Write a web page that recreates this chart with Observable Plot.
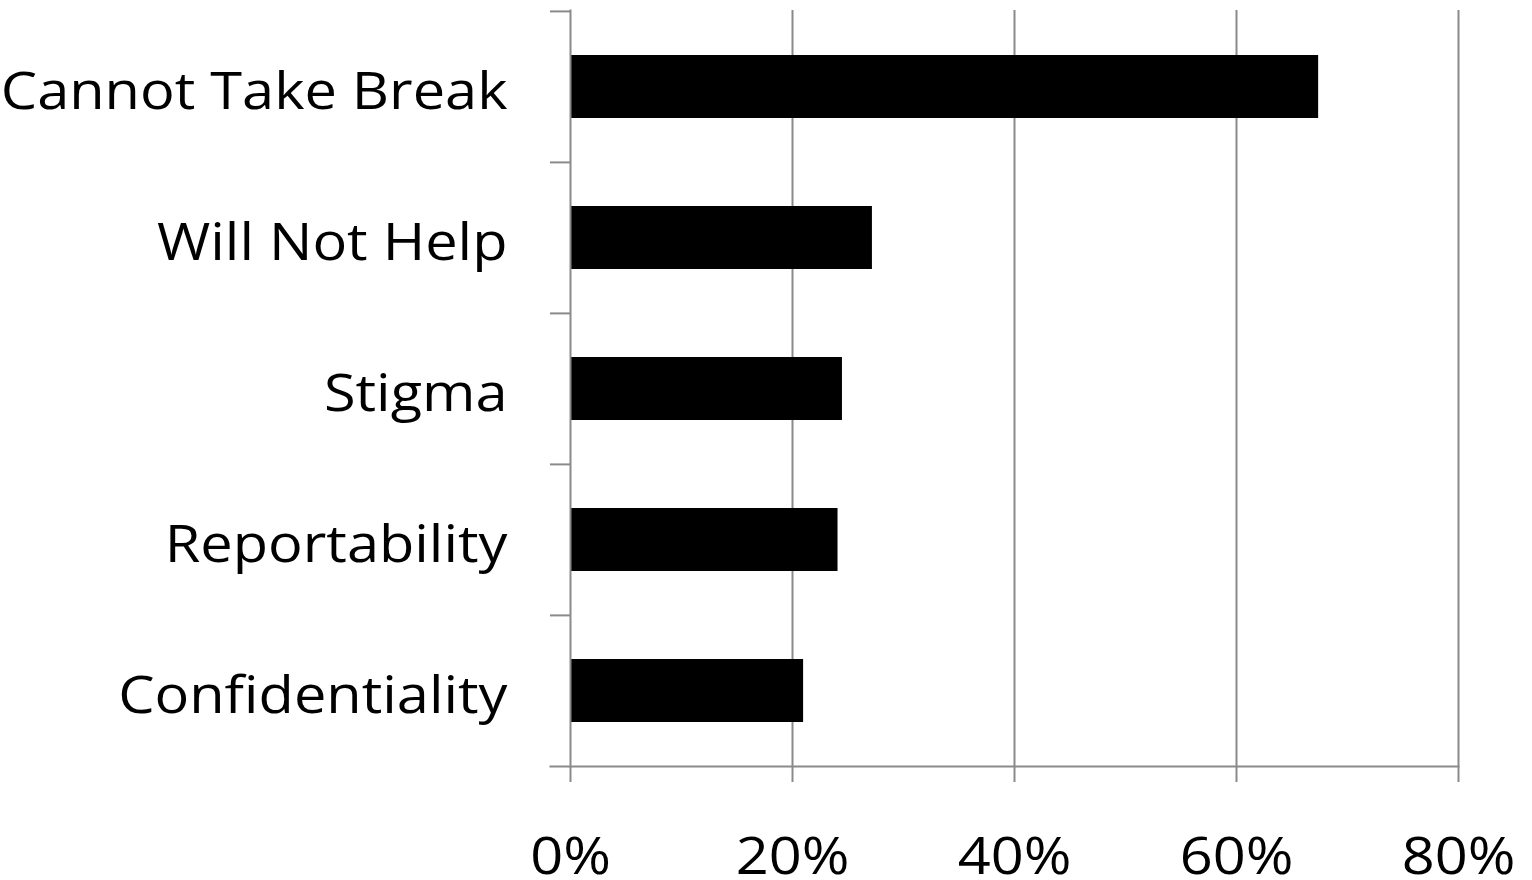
<!DOCTYPE html>
<html>
<head>
<meta charset="utf-8">
<script src="https://cdn.jsdelivr.net/npm/d3@7"></script>
<script src="https://cdn.jsdelivr.net/npm/@observablehq/plot@0.6"></script>
<style>
  html, body { margin: 0; padding: 0; background: #fff; }
  #chart { width: 1532px; height: 880px; }
</style>
</head>
<body>
<div id="chart"></div>
<script>
// Reasons given for not seeking help (share of respondents)
const categories = ["Cannot Take Break", "Will Not Help", "Stigma", "Reportability", "Confidentiality"];
const values = [0.674, 0.272, 0.245, 0.241, 0.210];
const xTicks = [0, 0.2, 0.4, 0.6, 0.8];

const data = categories.map((category, i) => ({category, value: values[i]}));

const width = 1532, height = 880;
const marginLeft = 570, marginRight = 74, marginTop = 10, marginBottom = 114;
const step = (height - marginTop - marginBottom) / categories.length;
const gray = "#8a8a8a";
const font = "'Open Sans', sans-serif";

const chart = Plot.plot({
  width, height, marginLeft, marginRight, marginTop, marginBottom,
  style: {fontFamily: font, background: "#fff"},
  x: {domain: [0, 0.8], ticks: xTicks},
  y: {domain: categories, padding: 0},
  marks: [
    Plot.gridX(xTicks.slice(1), {stroke: gray, strokeOpacity: 1, strokeWidth: 2}),
    Plot.barX(data, {x: "value", y: "category", fill: "black", insetTop: 44, insetBottom: 44}),
    // vertical category axis line
    Plot.frame({anchor: "left", stroke: gray, strokeWidth: 2}),
    // horizontal value axis line, extended to meet the category ticks
    Plot.frame({anchor: "bottom", stroke: gray, strokeWidth: 2, insetLeft: -20}),
    // category ticks at band boundaries
    Plot.ruleY(categories, {y: d => d, dy: -step / 2, stroke: gray, strokeWidth: 2,
      insetLeft: -20, insetRight: width - marginLeft - marginRight}),
    Plot.axisX({ticks: xTicks, tickSize: 16, tickPadding: 55, stroke: gray, strokeWidth: 2,
      tickFormat: d3.format(".0%"), fontSize: 52, fill: "black", label: null}),
    Plot.axisY({tickSize: 0, tickPadding: 63, fontSize: 52, fill: "black", dy: 5, label: null})
  ]
});

// widen the tick label glyphs a little, keeping each label's anchor point fixed
chart.querySelectorAll('g[aria-label$="tick label"] text').forEach(t => {
  const tr = t.getAttribute("transform") || "";
  t.setAttribute("transform", (tr + " scale(1.11,1)").trim());
});

document.getElementById("chart").appendChild(chart);
</script>
</body>
</html>
